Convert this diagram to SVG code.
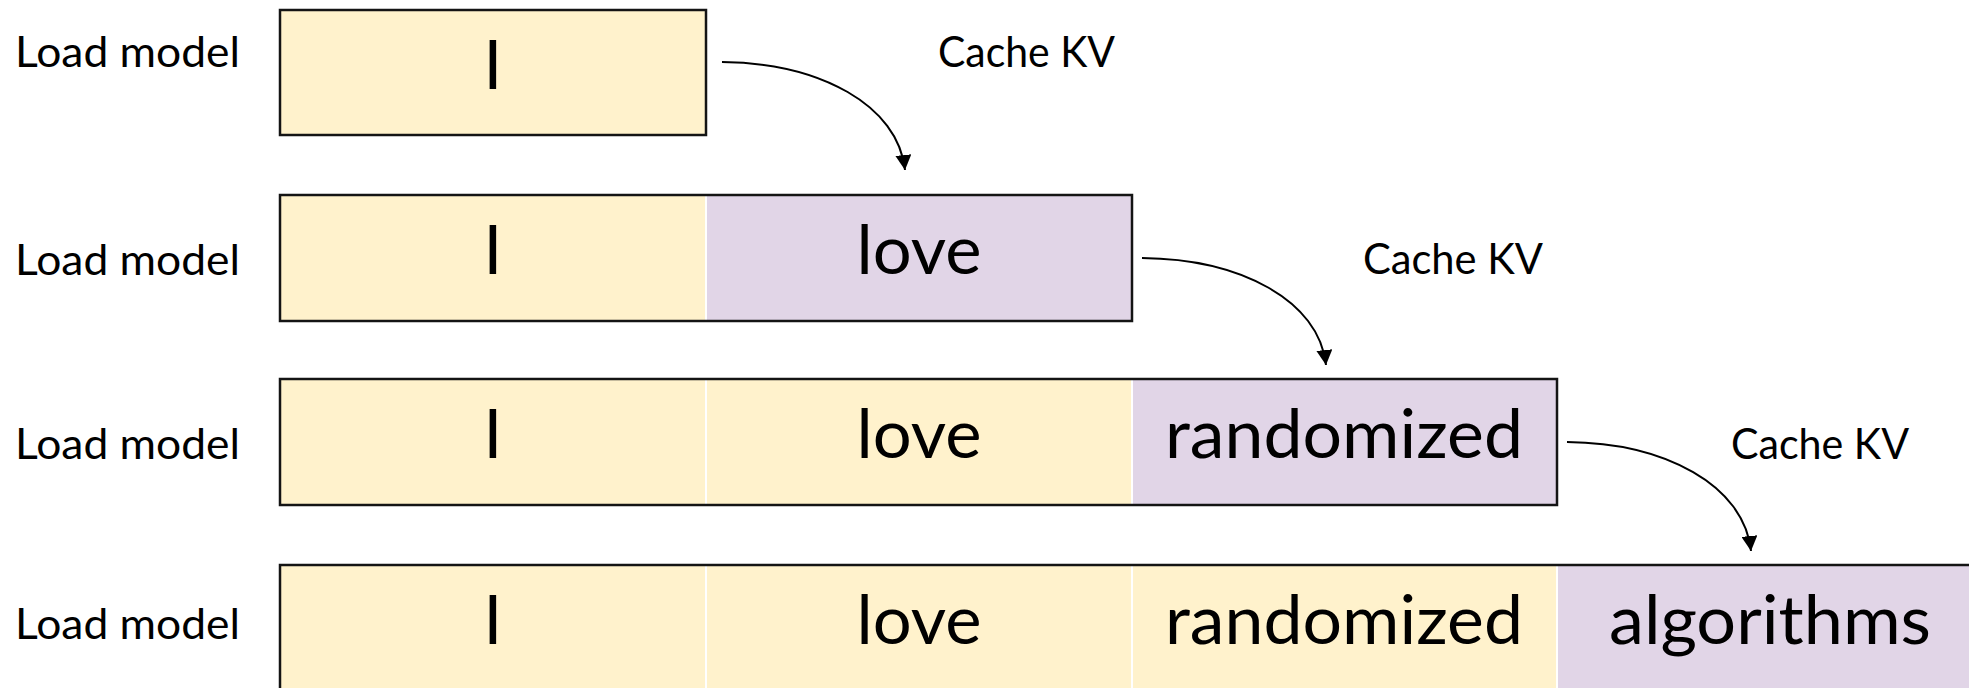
<svg xmlns="http://www.w3.org/2000/svg" width="1969" height="688" viewBox="0 0 1969 688">
  <style>
    .bg { fill: #ffffff; }
    .y { fill: #FFF2CC; stroke: #ffffff; stroke-width: 2; }
    .p { fill: #E1D5E7; stroke: #ffffff; stroke-width: 2; }
    .outer { fill: none; stroke: #141414; stroke-width: 2.5; }
    .big { font-family: Lato, "Liberation Sans", sans-serif; font-size: 67px; fill: #000; text-anchor: middle; }
    .lbl { font-family: Lato, "Liberation Sans", sans-serif; font-size: 42px; fill: #000; }
    .conn { fill: none; stroke: #000; stroke-width: 2; }
  </style>
  <defs>
    <marker id="arrow" markerUnits="userSpaceOnUse" markerWidth="16" markerHeight="16" refX="15" refY="8" orient="auto">
      <path d="M0,0 L15,8 L0,16 Z" fill="#000"/>
    </marker>
  </defs>
  <rect class="bg" x="0" y="0" width="1969" height="688"/>

  <!-- Labels -->
  <g id="labels">
    <text class="lbl" x="15" y="67" textLength="225" lengthAdjust="spacingAndGlyphs">Load model</text>
    <text class="lbl" x="15" y="275" textLength="225" lengthAdjust="spacingAndGlyphs">Load model</text>
    <text class="lbl" x="15" y="459" textLength="225" lengthAdjust="spacingAndGlyphs">Load model</text>
    <text class="lbl" x="15" y="639" textLength="225" lengthAdjust="spacingAndGlyphs">Load model</text>
    <text class="lbl" x="938" y="67" textLength="177" lengthAdjust="spacingAndGlyphs">Cache KV</text>
    <text class="lbl" x="1363" y="274" textLength="180" lengthAdjust="spacingAndGlyphs">Cache KV</text>
    <text class="lbl" x="1731" y="459" textLength="178" lengthAdjust="spacingAndGlyphs">Cache KV</text>
  </g>

  <!-- Row 1 -->
  <g id="row1">
    <g id="r1c1"><rect class="y" x="280" y="10" width="426" height="125"/><text class="big" x="493" y="89">I</text></g>
    <rect class="outer" x="280" y="10" width="426" height="125"/>
  </g>

  <!-- Row 2 -->
  <g id="row2">
    <g id="r2c1"><rect class="y" x="280" y="195" width="426" height="126"/><text class="big" x="493" y="274">I</text></g>
    <g id="r2c2"><rect class="p" x="706" y="195" width="426" height="126"/><text class="big" x="919" y="274" textLength="125" lengthAdjust="spacingAndGlyphs">love</text></g>
    <rect class="outer" x="280" y="195" width="852" height="126"/>
  </g>

  <!-- Row 3 -->
  <g id="row3">
    <g id="r3c1"><rect class="y" x="280" y="379" width="426" height="126"/><text class="big" x="493" y="458">I</text></g>
    <g id="r3c2"><rect class="y" x="706" y="379" width="426" height="126"/><text class="big" x="919" y="458" textLength="125" lengthAdjust="spacingAndGlyphs">love</text></g>
    <g id="r3c3"><rect class="p" x="1132" y="379" width="425" height="126"/><text class="big" x="1344" y="458" textLength="358" lengthAdjust="spacingAndGlyphs">randomized</text></g>
    <rect class="outer" x="280" y="379" width="1277" height="126"/>
  </g>

  <!-- Row 4 -->
  <g id="row4">
    <g id="r4c1"><rect class="y" x="280" y="565" width="426" height="126"/><text class="big" x="493" y="644">I</text></g>
    <g id="r4c2"><rect class="y" x="706" y="565" width="426" height="126"/><text class="big" x="919" y="644" textLength="125" lengthAdjust="spacingAndGlyphs">love</text></g>
    <g id="r4c3"><rect class="y" x="1132" y="565" width="425" height="126"/><text class="big" x="1344" y="644" textLength="358" lengthAdjust="spacingAndGlyphs">randomized</text></g>
    <g id="r4c4"><rect class="p" x="1557" y="565" width="426" height="126"/><text class="big" x="1770" y="644" textLength="322" lengthAdjust="spacingAndGlyphs">algorithms</text></g>
    <rect class="outer" x="280" y="565" width="1703" height="126"/>
  </g>

  <!-- Connectors -->
  <g id="connectors">
    <path class="conn" d="M722,62 C820,63 898,105 905,170" marker-end="url(#arrow)"/>
    <path class="conn" d="M1142,258 C1240,259 1319,300 1326,365" marker-end="url(#arrow)"/>
    <path class="conn" d="M1567,442 C1665,443 1744,485 1751,551" marker-end="url(#arrow)"/>
  </g>
</svg>
